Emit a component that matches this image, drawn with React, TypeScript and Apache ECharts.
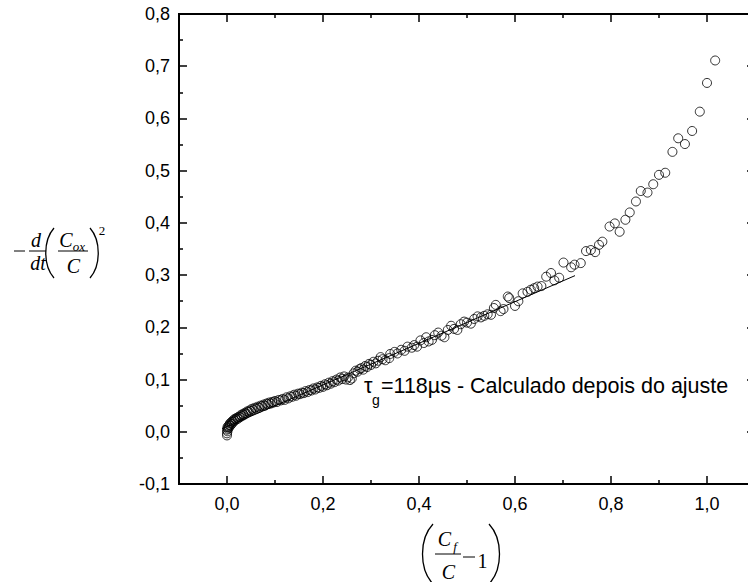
import React, { useEffect, useRef } from "react";
import * as echarts from "echarts";

// ---- data ----
const X_MAJOR = [0, 0.2, 0.4, 0.6, 0.8, 1.0];
const X_MINOR = [0.1, 0.3, 0.5, 0.7, 0.9];

const denseData: [number, number][] = [
  [0.000, -0.007], [0.000, -0.003], [0.001, 0.001], [0.000, 0.004], [0.002, 0.006], [0.001, 0.009],
  [0.003, 0.011], [0.004, 0.008], [0.005, 0.013], [0.006, 0.016], [0.007, 0.012], [0.009, 0.018],
  [0.010, 0.015], [0.011, 0.020], [0.013, 0.019], [0.014, 0.023], [0.016, 0.021], [0.017, 0.025],
  [0.019, 0.024], [0.021, 0.027], [0.023, 0.025], [0.025, 0.029], [0.027, 0.028], [0.029, 0.032],
  [0.031, 0.030], [0.033, 0.034], [0.035, 0.032], [0.037, 0.036], [0.040, 0.035], [0.042, 0.039],
  [0.045, 0.038], [0.047, 0.041], [0.050, 0.040], [0.052, 0.044], [0.055, 0.042], [0.058, 0.046],
  [0.061, 0.044], [0.064, 0.048], [0.067, 0.046], [0.070, 0.050], [0.073, 0.049], [0.076, 0.052],
  [0.079, 0.050], [0.082, 0.054], [0.085, 0.053], [0.088, 0.056], [0.091, 0.054], [0.094, 0.057],
  [0.097, 0.056], [0.100, 0.059], [0.104, 0.057], [0.108, 0.061], [0.112, 0.060], [0.116, 0.063],
  [0.120, 0.061], [0.124, 0.066], [0.128, 0.064], [0.132, 0.068], [0.136, 0.067], [0.140, 0.071],
  [0.144, 0.069], [0.148, 0.073], [0.152, 0.072], [0.156, 0.075], [0.160, 0.074], [0.164, 0.078],
  [0.168, 0.076], [0.172, 0.080], [0.176, 0.079], [0.180, 0.083], [0.184, 0.081], [0.188, 0.085],
  [0.192, 0.084], [0.196, 0.088], [0.200, 0.086], [0.204, 0.091], [0.208, 0.089], [0.212, 0.094],
  [0.216, 0.092], [0.220, 0.097], [0.224, 0.095], [0.228, 0.100], [0.232, 0.098], [0.236, 0.104],
  [0.240, 0.101], [0.244, 0.106], [0.248, 0.100], [0.252, 0.104], [0.256, 0.099], [0.260, 0.102],
  [0.264, 0.112], [0.268, 0.117], [0.272, 0.115], [0.276, 0.120], [0.280, 0.122], [0.284, 0.119],
  [0.288, 0.126], [0.292, 0.124], [0.296, 0.130], [0.300, 0.128], [0.305, 0.134], [0.310, 0.131],
  [0.315, 0.136], [0.320, 0.143], [0.324, 0.139], [0.330, 0.137],
];

const sparseData: [number, number][] = [
  [0.338, 0.141], [0.340, 0.149], [0.349, 0.153], [0.355, 0.150], [0.363, 0.157], [0.370, 0.155],
  [0.376, 0.163], [0.385, 0.161], [0.390, 0.166], [0.396, 0.163], [0.403, 0.175], [0.410, 0.170],
  [0.415, 0.181], [0.420, 0.173], [0.427, 0.176], [0.433, 0.185], [0.440, 0.190], [0.447, 0.184],
  [0.453, 0.181], [0.460, 0.195], [0.467, 0.203], [0.473, 0.197], [0.480, 0.195], [0.487, 0.206],
  [0.494, 0.211], [0.500, 0.209], [0.508, 0.207], [0.515, 0.216], [0.522, 0.221], [0.529, 0.219],
  [0.536, 0.222], [0.543, 0.225], [0.550, 0.224], [0.556, 0.237], [0.560, 0.243], [0.570, 0.231],
  [0.576, 0.235], [0.585, 0.259], [0.588, 0.256], [0.600, 0.241], [0.607, 0.250], [0.616, 0.265],
  [0.626, 0.268], [0.633, 0.272], [0.640, 0.275], [0.647, 0.278], [0.655, 0.279], [0.665, 0.297],
  [0.675, 0.304], [0.682, 0.290], [0.692, 0.295], [0.701, 0.324], [0.717, 0.315], [0.724, 0.320],
  [0.737, 0.323], [0.748, 0.346], [0.758, 0.348], [0.767, 0.344], [0.775, 0.358], [0.782, 0.364],
  [0.797, 0.393], [0.808, 0.399], [0.818, 0.383], [0.830, 0.406], [0.839, 0.420], [0.852, 0.441],
  [0.862, 0.461], [0.876, 0.458], [0.888, 0.474], [0.900, 0.492], [0.913, 0.496], [0.928, 0.536],
  [0.940, 0.562], [0.954, 0.551], [0.969, 0.576], [0.985, 0.613], [1.000, 0.668], [1.017, 0.711],
];

const fitLine: [number, number][] = [
  [-0.01, 0.006],
  [0.725, 0.299],
];

const annotationSub = "g";
const annotationMain = "=118µs - Calculado depois do ajuste";

const fmt = (v: number) => v.toFixed(1).replace(".", ",");

const SANS = '"Liberation Sans", Arial, sans-serif';
const SERIF = '"Liberation Serif", "Times New Roman", serif';

const GRID = { left: 179, top: 14, width: 576, height: 470 };

function txt(text: string, x: number, y: number, font: string, align = "center") {
  return {
    type: "text",
    silent: true,
    style: {
      text,
      x,
      y,
      font,
      fill: "#000",
      textAlign: align,
      align,
      textVerticalAlign: "middle",
      verticalAlign: "middle",
    },
  };
}
function ln(x1: number, y1: number, x2: number, y2: number, w = 1) {
  return { type: "line", silent: true, shape: { x1, y1, x2, y2 }, style: { stroke: "#000", lineWidth: w } };
}
function paren(xEnd: number, xMid: number, y1: number, y2: number) {
  const h = y2 - y1;
  return {
    type: "bezierCurve",
    silent: true,
    shape: {
      x1: xEnd, y1, x2: xEnd, y2,
      cpx1: xMid, cpy1: y1 + h * 0.25, cpx2: xMid, cpy2: y1 + h * 0.75,
    },
    style: { stroke: "#000", lineWidth: 1.3, fill: "none" },
  };
}

export default function App() {
  const ref = useRef<HTMLDivElement>(null);
  useEffect(() => {
    if (!ref.current) return;
    const chart = echarts.init(ref.current, undefined, { renderer: "svg" });
    const noLine = () => ({ show: false, onZero: false });
    const tickStyle = () => ({ color: "#000", width: 1.5 });
    const xBase = () => ({ type: "value", min: -0.1, max: 1.1, splitLine: { show: false } });
    const yBase = () => ({ type: "value", min: -0.1, max: 0.8, interval: 0.1, splitLine: { show: false } });
    const itI = "italic 20px " + SERIF;
    const itS = "italic 13px " + SERIF;
    const gL = GRID.left, gT = GRID.top, gR = GRID.left + GRID.width, gB = GRID.top + GRID.height;
    chart.setOption({
      animation: false,
      backgroundColor: "#fff",
      grid: {
        ...GRID, containLabel: false,
        show: true, borderColor: "#000", borderWidth: 2, backgroundColor: "transparent",
      },
      xAxis: [
        {
          ...xBase(),
          position: "bottom",
          axisLine: noLine(),
          axisTick: { show: true, inside: true, length: 8, lineStyle: tickStyle(), customValues: X_MAJOR },
          axisLabel: {
            show: true, customValues: X_MAJOR, formatter: fmt, color: "#000",
            fontFamily: SANS, fontSize: 18, margin: 11,
          },
        },
        {
          ...xBase(),
          position: "bottom",
          axisLine: noLine(),
          axisTick: { show: true, inside: true, length: 4, lineStyle: tickStyle(), customValues: X_MINOR },
          axisLabel: { show: false },
        },
        {
          ...xBase(),
          position: "top",
          axisLine: noLine(),
          axisTick: { show: true, inside: true, length: 8, lineStyle: tickStyle(), customValues: X_MAJOR },
          axisLabel: { show: false },
        },
        {
          ...xBase(),
          position: "top",
          axisLine: noLine(),
          axisTick: { show: true, inside: true, length: 4, lineStyle: tickStyle(), customValues: X_MINOR },
          axisLabel: { show: false },
        },
      ],
      yAxis: [
        {
          ...yBase(),
          position: "left",
          axisLine: noLine(),
          axisTick: { show: true, inside: true, length: 8, lineStyle: tickStyle() },
          minorTick: { show: true, splitNumber: 2, length: 4, lineStyle: tickStyle() },
          axisLabel: { show: true, formatter: fmt, color: "#000", fontFamily: SANS, fontSize: 18, margin: 9 },
        },
        {
          ...yBase(),
          position: "right",
          axisLine: noLine(),
          axisTick: { show: true, inside: true, length: 8, lineStyle: tickStyle() },
          minorTick: { show: true, splitNumber: 2, length: 4, lineStyle: tickStyle() },
          axisLabel: { show: false },
        },
      ],
      series: [
        {
          type: "scatter",
          xAxisIndex: 0,
          yAxisIndex: 0,
          data: [...denseData, ...sparseData],
          symbol: "circle",
          symbolSize: 9,
          itemStyle: { color: "rgba(0,0,0,0)", borderColor: "#000", borderWidth: 1 },
          silent: true,
        },
        {
          type: "line",
          xAxisIndex: 0,
          yAxisIndex: 0,
          data: fitLine,
          showSymbol: false,
          lineStyle: { color: "#000", width: 1 },
          silent: true,
        },
      ],
      graphic: [
        // frame edges (reinforce grid border)
        ln(gL, gT - 1, gL, gB + 1, 2),
        ln(gL - 1, gB, gR + 1, gB, 2),
        ln(gL - 1, gT, gR + 1, gT, 2),
        // annotation
        txt("τ", 364, 386, "21.5px " + SANS, "left"),
        txt(annotationSub, 372, 400, "14px " + SANS, "left"),
        txt(annotationMain, 381, 386, "21.5px " + SANS, "left"),
        // y-axis label: - d/dt (Cox/C)^2
        ln(14, 251, 25, 251),
        txt("d", 36, 240, itI),
        ln(29, 251, 46, 251),
        txt("dt", 38, 263, itI),
        paren(54, 43, 228, 278),
        txt("C", 66, 240, itI),
        txt("ox", 79, 246, itS),
        ln(58, 251, 88, 251),
        txt("C", 73.5, 266, itI),
        paren(90, 101, 228, 278),
        txt("2", 102, 230, "13px " + SERIF),
        // x-axis label: (Cf/C - 1)
        paren(433, 419, 524, 584),
        txt("C", 444.5, 539, itI),
        txt("f", 455, 546, itS),
        ln(435, 554, 461, 554),
        txt("C", 448.5, 572, itI),
        ln(463, 557, 475, 557),
        txt("1", 482.5, 561, "20px " + SERIF),
        paren(489, 503, 524, 584),
      ],
    });
    return () => chart.dispose();
  }, []);
  return (
    <div
      style={{
        position: "fixed",
        left: 0,
        top: 0,
        width: 748,
        height: 582,
        overflow: "hidden",
        background: "#fff",
      }}
    >
      <div ref={ref} style={{ width: 760, height: 582 }} />
    </div>
  );
}
